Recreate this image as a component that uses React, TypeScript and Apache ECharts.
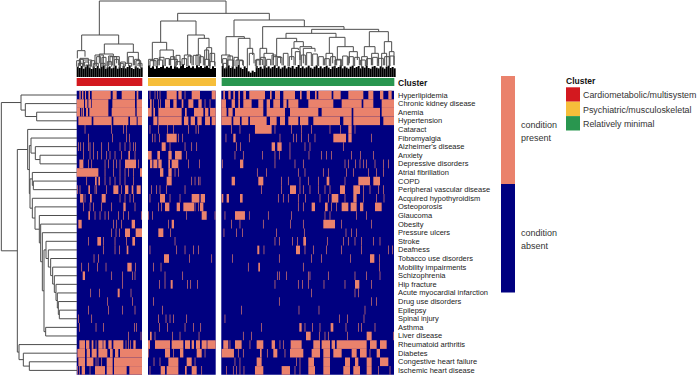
import React, { useEffect, useRef } from "react";
import * as echarts from "echarts";

const rowNames = ["Hyperlipidemia","Chronic kidney disease","Anemia","Hypertension","Cataract","Fibromyalgia","Alzheimer's disease","Anxiety","Depressive disorders","Atrial fibrillation","COPD","Peripheral vascular disease","Acquired hypothyroidism","Osteoporosis","Glaucoma","Obesity","Pressure ulcers","Stroke","Deafness","Tobacco use disorders","Mobility impairments","Schizophrenia","Hip fracture","Acute myocardial infarction","Drug use disorders","Epilepsy","Spinal injury","Asthma","Liver disease","Rheumatoid arthritis","Diabetes","Congestive heart failure","Ischemic heart disease"];

const clusterNames = ["Cardiometabolic/multisystem","Psychiatric/musculoskeletal","Relatively minimal"];
const clusterColors = ["#D3191F","#F6BE3A","#29964F"];
const PRESENT = "#EA826C";
const ABSENT = "#000080";

// per condition: where the condition is present along each cluster's patient order
// "a-b" is a run of patients, a bare number is a single narrow patient stripe
const cardioRows = [
"28-32 36-40 45-48 55-60 65-122 128-140 155-195 200-205",
"20-42 45-52 55-63 65-115 127-195 200-216",
"20-30 34 38-42 48-54 58-115 125-196 200-216",
"25-65 70-125 130-175 180-200 203-216",
"45 125 160 170",
"55 127 170 178",
"25 32 40 55 60 70 95 115 150 165 180 190 197",
"40 60 70 82 95 110 120 135 155 175-180 195",
"28-40 55 65 105 115 130 140 150 165-198 205",
"20-85 105 130 150 165 175 190 210-216",
"50 75-80 85-90 105 120 135 150 165 190",
"22 30 55-60 75 80 110 130-145 155 165-175 185-190 200-212",
"30-40 45 60-65 95-107 150 165 180 190",
"40 60 70 95 125 160-167 195",
"55-60 75 90 105 115 145 160 175 215",
"25-35 130 140 155 185-195",
"125 138 148 165-180 197-216",
"55 82-93 100 135 170 187-195",
"100 135 148 170-175",
"72 85",
"35 55 82 108 172-185 197",
"38-45 125 158 187 195",
"158",
"62 88 143-149 183",
"113 187",
"55 115 158 195",
"25 65",
"28 78 100 193 200",
"175 213",
"28-45 48-58 65-70 78 85-98 100-107 115-125 130-160 168 175 182 190-197",
"22-45 50-60 65-80 85-112 120-128 135-145 150-216",
"25-45 50-70 78 84 95 110-128 132-216",
"22 28 35-45 60 75-105 110-128 132-170 178-216",
];
const psychRows = [
"240 255 262 270 290-320 325-335 345 365-390 425-437",
"240-245 250 265 272 285-300 310-320 335-340 355-370 385-395 405 420",
"234-245 250-255 265-335 345-350 372-400 405-415 420-437",
"250-262 265-335 342-355 362-375 382-395 405-420 425-437",
"240 265 292 310 355 378 385",
"248 255 268 290-320 325 338",
"275-287 300 345 365 380",
"234-245 262-270 295-305 315-335 350",
"240-247 250-262 265-275 295-300 305-325 355 388",
"270-280 295-305 315 325",
"290-305 365 375 385 390",
"245 260 270 290 345",
"240 270-285 300 330 365-388 392-405",
"265 275 285-298 320-330 340-372 375 385 390-400",
"235 248 350 395-410 435",
"295 305-312",
"265-280 302",
"315",
"240 320 345 370 385",
"282-297 358 425",
"250 273",
"285 338",
"268 285 302-308 352 362 382",
"",
"250",
"277",
"265 288 300 310 350",
"268 292 345 370 392",
"240-245 255 308 330 387",
"234-240 255-300 305-340 345-360 365-372 378-390 395-410 412-437",
"235 285-300 310 330-340 380-395 405",
"252 270 295-325 350-365 375",
"240 272-285 290-325 345-350 365-380 395",
];
const minimalRows = [
"10-15 25-32 40-45 55-60 70-78 88-135 150-155 165-180 190-225 240-245 260-270 285-290 295-335 340-362 385-430 445-460 480-490 505-515",
"4-18 35-45 55-60 70-95 115-130 140-150 160-180 190-200 205-235 265-340 365-425 430-460 485-522",
"4-20 25-38 45-130 140-195 210-295 305-395 400-480 485-522",
"4-35 40-60 65-85 90-140 150-170 180-195 205-235 240-265 280-360 370-395 400-480 490-522",
"35 60 105-155 165 215 245 275 330 362 385-395 405",
"18 40-47 88 180 220 230 245 265 285 340-378 385-395 455",
"50 62 155-165 172-185 210 255 270 370",
"45 70 128 165 178 210 267 305 320 335 395 422 460",
"8 60-70 165 225 250 375 385 407 420 430 440 465 490 505",
"112 140 235 255 310 325 380 400 445 470 490",
"35-45 115-130 185 205 240 265 295 320-328 375 415-450 460-480",
"125 185 210-228 240 250 270 295 315 330 360-375 400-420 430 450 475 490",
"5-10 20-27 60-68 175 190 205 235 257 300 325 335-355 375 400-410 430 470 492",
"235 250 275-285 315-323 335 350 365-385 392-410 420-430 465-485",
"15 45-75 88 145 215 315 330 410 440",
"35 60 130 212 250 310-345 365 455",
"12 50 68 170 253 378 395 410",
"165 178 218 233 250-258 322 370 385 405 425 460 480",
"112-118 132 228-240 255 280 320 365 425 505 518",
"38 178 275 305 392 450-463 478",
"85 115-120 250 478",
"172 178 200 265 270 325 405 440 480",
"165 235 248 265 312 375 405-418 455",
"275 405 415",
"178 455 470",
"65 237 297 435",
"15 358 382 432",
"125 238-245 255 278 300 332-340 378 415 425 465",
"70 95 258-272 298 315 325 382 440-455 520",
"10-25 30 45-65 90 110-130 155-165 180 190 212-245 280-300 305-330 335-345 350-440 450-470 480-500",
"5-42 55 70 120-125 142 160-172 195 210-250 275-300 310-330 340-365 395-410 420-440 450 470-480",
"45 60 110-125 230 240 265-282 310-330 375-390 405-415 440-455 480-505",
"20 40 50 60 72 105-130 185-210 225 240 265-285 310-330 370-390 400-420 440-455 475 510",
];

// column dendrogram: [left x, left bottom, right x, right bottom, merge height]
const colLinks = [
[88,105,468,40,3],[35,150,146,132,105],[22,175,45,170,152],[30,195,55,190,175],[40,195,65,200,180],
[103,162,190,157,132],[88,190,130,170,162],[120,195,140,190,170],[75,200,100,195,165],[172,190,205,182,157],
[165,200,185,200,190],[198,205,212,205,182],[25,205,38,205,190],[48,205,60,205,195],[70,205,85,205,190],
[92,205,105,205,190],[112,205,125,200,185],[132,205,148,205,170],[150,205,160,205,190],
[323,63,598,60,40],[272,127,378,105,63],[247,182,290,150,127],[270,180,310,178,150],[240,200,258,200,182],
[262,205,278,200,180],[298,195,322,195,178],[353,165,403,115,105],[343,195,362,190,165],[385,165,417,143,115],
[378,195,392,190,165],[410,178,425,185,143],[405,205,418,200,178],[420,205,435,200,185],[318,205,332,200,185],
[492,110,703,80,60],[468,165,523,115,110],[455,190,480,180,165],[505,180,540,145,115],[498,200,518,195,180],
[532,205,548,165,145],[460,205,470,205,190],[472,205,490,205,180],[578,145,822,88,80],[570,178,590,160,145],
[560,205,578,195,178],[582,205,610,180,160],[725,100,926,95,88],[648,115,798,112,100],[620,170,680,125,115],
[610,195,632,190,170],[672,145,700,140,125],[665,180,685,150,145],[690,180,725,145,140],[700,190,735,155,145],
[778,160,825,140,112],[768,195,788,190,160],[802,180,850,155,140],[795,205,812,200,180],[838,190,862,180,155],
[898,140,955,125,95],[883,170,915,160,140],[943,160,965,155,125],[875,205,892,195,170],[905,195,925,190,160],
[935,205,950,200,160],[958,200,972,195,155],
[20,200,32,198,182],[44,200,56,198,186],[28,198,40,200,178],[62,200,74,196,182],[80,198,92,200,170],[96,200,108,198,172],
[116,198,128,196,168],[134,198,146,196,178],[152,200,166,198,186],[176,198,190,196,170],[194,196,208,200,178],[204,198,216,200,190],
[236,196,250,198,178],[252,198,264,196,176],[268,196,282,198,172],[286,198,298,196,176],[302,196,314,198,170],[318,198,330,196,166],
[336,196,350,198,176],[354,198,366,196,168],[370,196,384,198,166],[388,198,400,196,170],[404,196,416,198,150],[420,198,434,196,160],
[458,198,470,196,176],[474,196,488,198,168],[492,198,504,196,172],[508,196,520,198,182],[538,196,552,190,160],[556,198,568,196,180],
[572,196,586,198,172],[590,198,602,196,178],[606,196,618,198,165],[622,198,636,196,172],[640,196,654,198,160],[658,198,672,196,170],
[676,196,690,198,155],[694,198,706,196,165],[710,196,724,198,158],[728,198,742,196,162],[746,198,760,196,170],[764,196,778,198,176],
[782,198,796,196,170],[800,196,814,198,178],[818,198,832,196,168],[836,196,850,198,170],[854,198,868,196,172],[872,196,886,198,180],
[890,198,904,196,176],[908,196,922,198,172],[926,198,940,196,175],[944,196,958,198,170],[960,198,972,196,168],
];

// top of the dense leaf band of the column dendrogram, one value per leaf group
const leafStarts = [20,234,455];
const leafCardio = [200,204,198,206,201,195,203,207,199,204,198,205,200,196,206,202,199,205,203,197,206,200,204,198,205,201,196,204,207,199,203,206,202];
const leafPsych = [196,203,199,206,198,204,201,196,205,200,203,197,206,199,202,205,198,193,204,200,197,203,199,205,196,202,198,204,200,197,203,206,199,204];
const leafMinimal = [198,205,201,196,204,199,206,200,195,203,207,199,204,214,218,212,216,198,204,200,206,197,203,199,205,201,196,204,199,206,202,197,205,200,203,198,206,201,195,204,199,205,202,197,203,206,200,196,204,199,205,201,197,203,207,200,198,204,201,196,205,199,203,206,200,197,204,201,198,205,199,203,196,204,206,200,198,203,205,199,202,206,200,197,204,201,205];

// row dendrogram as nested [height, upper, lower]; a number is a row
const rowTree: any = [4,
  [63, 0, [76, 1, [110, 2, 3]]],
  [52,
    [83, 4,
      [88,
        [93, 5, [106, 6, [120, 7, 8]]],
        [90,
          [97, 9, [100, 10, 11]],
          [97, 12,
            [105, 13,
              [118, 14,
                [122, 15,
                  [127, 16,
                    [132,
                      [138, 17, [145, 18, [152, 19, [158, 20, [163, 21, [168, 22, [172, 23, [175, 24, [178, 25, 26]]]]]]]]],
                      [137, 27, 28]
                    ]
                  ]
                ]
              ]
            ]
          ]
        ]
      ]
    ],
    [57, 29, [70, 30, [88, 31, 32]]]
  ]
];
const ROW_LEAF_X = 231;

function parseRuns(rows: string[]) {
  const out: number[][] = [];
  rows.forEach((r, i) => {
    r.split(" ").filter(Boolean).forEach((t) => {
      if (t.includes("-")) {
        const [a, b] = t.split("-").map(Number);
        out.push([a, b, i]);
      } else {
        const c = Number(t);
        out.push([c - 1, c + 1, i]);
      }
    });
  });
  return out;
}

function flattenTree(node: any, out: number[][]): [number, number] {
  if (typeof node === "number") return [node, ROW_LEAF_X];
  const [h, a, b] = node;
  const [ya, xa] = flattenTree(a, out);
  const [yb, xb] = flattenTree(b, out);
  out.push([h, ya, xa, yb, xb]);
  return [(ya + yb) / 2, h];
}

const LINE = "#4d4d4d";
const FONT = "'Liberation Sans', Arial, sans-serif";

export default function App() {
  const ref = useRef<HTMLDivElement>(null);
  useEffect(() => {
    const chart = echarts.init(ref.current!, undefined, { renderer: "svg" });
    const rowLinks: number[][] = [];
    flattenTree(rowTree, rowLinks);

    const panels = [
      { left: 76.7, width: 65.3, min: 20, max: 216, rows: cardioRows },
      { left: 148, width: 67.7, min: 234, max: 437, rows: psychRows },
      { left: 221.3, width: 172.7, min: 4, max: 522, rows: minimalRows },
    ];
    const clusterBars = [[20, 217, 0], [234, 438, 1], [455, 973, 2]];
    const leaves: number[][] = [];
    [leafCardio, leafPsych, leafMinimal].forEach((list, p) =>
      list.forEach((top, i) => leaves.push([leafStarts[p] + i * 6, top]))
    );

    const heat = (gridIdx: number, rows: string[]) => ({
      type: "custom",
      xAxisIndex: gridIdx,
      yAxisIndex: gridIdx,
      encode: { x: [0, 1], y: 2 },
      data: parseRuns(rows),
      silent: true,
      renderItem: (_: any, api: any) => {
        const a = api.coord([api.value(0), api.value(2)]);
        const b = api.coord([api.value(1), api.value(2)]);
        const h = api.size([0, 1])[1];
        return {
          type: "rect",
          shape: { x: a[0], y: a[1] - h / 2, width: b[0] - a[0], height: h },
          style: { fill: PRESENT },
        };
      },
    });

    chart.setOption({
      animation: false,
      backgroundColor: "#fff",
      grid: [
        { left: 70, top: 0, width: 330, height: 86.67 },
        { left: 0, top: 90.7, width: 80, height: 284 },
        ...panels.map((p) => ({
          left: p.left, top: 90.7, width: p.width, height: 284,
          show: true, backgroundColor: ABSENT, borderWidth: 0,
        })),
      ],
      xAxis: [
        { type: "value", gridIndex: 0, min: 0, max: 990, show: false },
        { type: "value", gridIndex: 1, min: 0, max: 240, show: false },
        ...panels.map((p, i) => ({ type: "value", gridIndex: i + 2, min: p.min, max: p.max, show: false })),
      ],
      yAxis: [
        { type: "value", gridIndex: 0, min: 0, max: 260, inverse: true, show: false },
        { type: "value", gridIndex: 1, min: -0.5, max: 32.5, inverse: true, show: false },
        ...panels.map((p, i) => ({
          type: "category",
          gridIndex: i + 2,
          data: rowNames,
          inverse: true,
          position: "right",
          show: i === 2,
          axisLine: { show: false },
          axisTick: { show: false },
          splitLine: { show: false },
          axisLabel: { show: i === 2, interval: 0, fontSize: 7.5, fontFamily: FONT, color: "#222", margin: 4 },
        })),
      ],
      series: [
        {
          type: "custom", xAxisIndex: 0, yAxisIndex: 0, silent: true, data: clusterBars,
          encode: { x: [0, 1] },
          renderItem: (_: any, api: any) => {
            const a = api.coord([api.value(0), 234]);
            const b = api.coord([api.value(1), 258]);
            return {
              type: "rect",
              shape: { x: a[0], y: a[1], width: b[0] - a[0], height: b[1] - a[1] },
              style: { fill: clusterColors[api.value(2)] },
            };
          },
        },
        {
          type: "custom", xAxisIndex: 0, yAxisIndex: 0, silent: true, data: leaves,
          encode: { x: 0, y: 1 },
          renderItem: (_: any, api: any) => {
            const a = api.coord([api.value(0), api.value(1)]);
            const b = api.coord([api.value(0) + 6, 231]);
            return {
              type: "rect",
              shape: { x: a[0], y: a[1], width: b[0] - a[0], height: b[1] - a[1] },
              style: { fill: "#000" },
            };
          },
        },
        {
          type: "custom", xAxisIndex: 0, yAxisIndex: 0, silent: true, data: colLinks,
          encode: { x: [0, 2], y: [1, 3, 4] },
          renderItem: (_: any, api: any) => {
            const [x1, y1, x2, y2, t] = [0, 1, 2, 3, 4].map((d) => api.value(d));
            return {
              type: "polyline",
              shape: { points: [api.coord([x1, y1]), api.coord([x1, t]), api.coord([x2, t]), api.coord([x2, y2])] },
              style: { fill: null, stroke: LINE, lineWidth: 1 },
            };
          },
        },
        {
          type: "custom", xAxisIndex: 1, yAxisIndex: 1, silent: true, data: rowLinks,
          encode: { x: [0, 2, 4], y: [1, 3] },
          renderItem: (_: any, api: any) => {
            const [h, ya, xa, yb, xb] = [0, 1, 2, 3, 4].map((d) => api.value(d));
            return {
              type: "polyline",
              shape: { points: [api.coord([xa, ya]), api.coord([h, ya]), api.coord([h, yb]), api.coord([xb, yb])] },
              style: { fill: null, stroke: LINE, lineWidth: 1 },
            };
          },
        },
        ...panels.map((p, i) => heat(i + 2, p.rows)),
      ],
      graphic: [
        { type: "text", x: 398, y: 83, style: { text: "Cluster", font: `bold 8.5px ${FONT}`, fill: "#111", textVerticalAlign: "middle" } },
        { type: "rect", shape: { x: 501, y: 76, width: 14, height: 108 }, style: { fill: PRESENT } },
        { type: "rect", shape: { x: 501, y: 184, width: 14, height: 108.5 }, style: { fill: ABSENT } },
        { type: "text", x: 521, y: 125, style: { text: "condition", font: `9px ${FONT}`, fill: "#333", textVerticalAlign: "middle" } },
        { type: "text", x: 521, y: 138, style: { text: "present", font: `9px ${FONT}`, fill: "#333", textVerticalAlign: "middle" } },
        { type: "text", x: 521, y: 233, style: { text: "condition", font: `9px ${FONT}`, fill: "#333", textVerticalAlign: "middle" } },
        { type: "text", x: 521, y: 246, style: { text: "absent", font: `9px ${FONT}`, fill: "#333", textVerticalAlign: "middle" } },
        { type: "text", x: 566, y: 81, style: { text: "Cluster", font: `bold 8.5px ${FONT}`, fill: "#111", textVerticalAlign: "middle" } },
        ...clusterNames.flatMap((n, i) => [
          { type: "rect", shape: { x: 566, y: 87.3 + i * 14.4, width: 14, height: 14.4 }, style: { fill: clusterColors[i] } },
          { type: "text", x: 583, y: 95 + i * 14.6, style: { text: n, font: `8.9px ${FONT}`, fill: "#333", textVerticalAlign: "middle" } },
        ]),
      ],
    });
    return () => chart.dispose();
  }, []);
  return <div ref={ref} style={{ position: "fixed", left: 0, top: 0, width: 700, height: 375 }} />;
}
